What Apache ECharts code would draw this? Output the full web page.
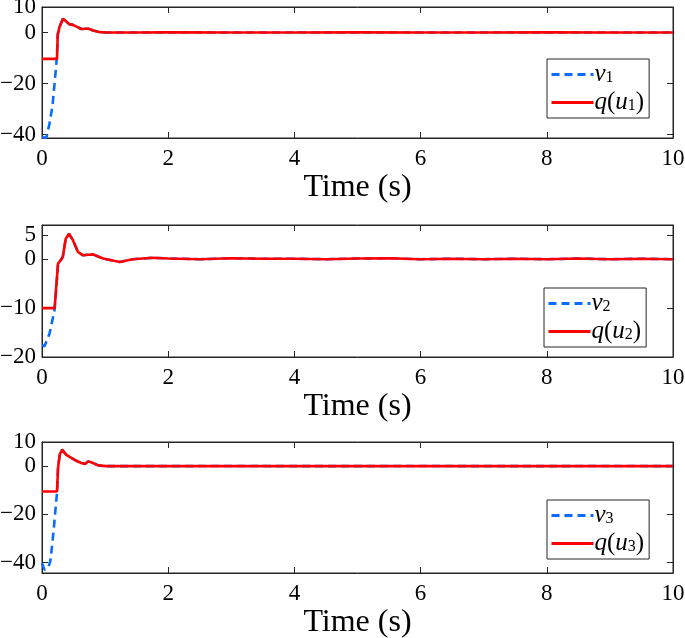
<!DOCTYPE html>
<html>
<head>
<meta charset="utf-8">
<script src="https://cdn.jsdelivr.net/npm/echarts@6/dist/echarts.min.js"></script>
<style>
html,body{margin:0;padding:0;background:#fff;}
#chart{width:685px;height:638px;}
</style>
</head>
<body>
<div id="chart"></div>
<script>
// ---- data ----
const xTicks = [0, 2, 4, 6, 8, 10];
const yTicks1 = [-40, -20, 0, 10];
const yTicks2 = [-20, -10, 0, 5];
const yTicks3 = [-40, -20, 0, 10];

const v1T = [0, 0.07, 0.12, 0.165, 0.2, 0.228, 0.24, 0.249, 0.28, 0.333, 0.36, 0.386, 0.43, 0.49, 0.546, 0.625, 0.68, 0.73, 0.81, 0.92, 1.02, 1.5, 2, 3, 4, 5, 6, 7, 8, 9, 10];
const v1V = [-41, -41.2, -35.5, -29, -19.7, -12, -7, -0.9, 2.4, 5.4, 5.4, 4.3, 3.3, 3.0, 2.3, 1.4, 1.5, 1.6, 0.8, 0.15, 0, 0, 0.05, 0, 0, 0.05, 0, 0, 0.05, 0, 0];
const q1T = [0, 0.238, 0.249, 0.28, 0.333, 0.36, 0.386, 0.43, 0.49, 0.546, 0.625, 0.68, 0.73, 0.81, 0.92, 1.02, 1.5, 2, 3, 4, 5, 6, 7, 8, 9, 10];
const q1V = [-10.3, -10.3, -0.9, 2.4, 5.4, 5.4, 4.3, 3.3, 3.0, 2.3, 1.4, 1.5, 1.6, 0.8, 0.15, 0, 0, 0.05, 0, 0, 0.05, 0, 0, 0.05, 0, 0];

const v2T = [0, 0.04, 0.12, 0.175, 0.2, 0.254, 0.307, 0.33, 0.376, 0.429, 0.45, 0.49, 0.57, 0.65, 0.73, 0.81, 0.9, 0.97, 1.1, 1.23, 1.44, 1.76, 2, 2.5, 3, 3.5, 4, 4.5, 5, 5.5, 6, 6.5, 7, 7.5, 8, 8.5, 9, 9.5, 10];
const v2V = [-17.6, -17.8, -15.2, -11.8, -10.3, -0.9, 0, 0.5, 4.2, 5.2, 5.4, 3.9, 1.5, 0.8, 0.9, 1.0, 0.5, 0.15, -0.2, -0.55, 0, 0.3, 0.15, 0, 0.2, 0.1, 0.1, 0, 0.15, 0.2, 0, 0.1, 0, 0.1, 0, 0.15, 0, 0.1, 0];
const q2T = [0, 0.2, 0.254, 0.307, 0.33, 0.376, 0.429, 0.45, 0.49, 0.57, 0.65, 0.73, 0.81, 0.9, 0.97, 1.1, 1.23, 1.44, 1.76, 2, 2.5, 3, 3.5, 4, 4.5, 5, 5.5, 6, 6.5, 7, 7.5, 8, 8.5, 9, 9.5, 10];
const q2V = [-10, -10, -0.9, 0, 0.5, 4.2, 5.2, 5.4, 3.9, 1.5, 0.8, 0.9, 1.0, 0.5, 0.15, -0.2, -0.55, 0, 0.3, 0.15, 0, 0.2, 0.1, 0.1, 0, 0.15, 0.2, 0, 0.1, 0, 0.1, 0, 0.15, 0, 0.1, 0];

const v3T = [0, 0.04, 0.07, 0.1, 0.13, 0.16, 0.19, 0.217, 0.238, 0.254, 0.28, 0.317, 0.386, 0.465, 0.544, 0.624, 0.68, 0.73, 0.78, 0.89, 1.02, 1.5, 2, 3, 4, 5, 6, 7, 8, 9, 10];
const v3V = [-40.2, -43, -43.6, -42, -39.5, -33, -25, -17, -11, -0.8, 4.7, 6.8, 4.7, 3.4, 2.2, 1.3, 0.9, 1.9, 1.6, 0.3, 0, 0, 0, 0.05, 0, 0, 0.05, 0, 0, 0.05, 0];
const q3T = [0, 0.238, 0.254, 0.28, 0.317, 0.386, 0.465, 0.544, 0.624, 0.68, 0.73, 0.78, 0.89, 1.02, 1.5, 2, 3, 4, 5, 6, 7, 8, 9, 10];
const q3V = [-10.5, -10.5, -0.8, 4.7, 6.8, 4.7, 3.4, 2.2, 1.3, 0.9, 1.9, 1.6, 0.3, 0, 0, 0, 0.05, 0, 0, 0.05, 0, 0, 0.05, 0];

const panels = [
  {vT: v1T, vV: v1V, qT: q1T, qV: q1V, yTicks: yTicks1, yMin: -41.3, yMax: 10, idx: '1'},
  {vT: v2T, vV: v2V, qT: q2T, qV: q2V, yTicks: yTicks2, yMin: -20, yMax: 7, idx: '2'},
  {vT: v3T, vV: v3V, qT: q3T, qV: q3V, yTicks: yTicks3, yMin: -44.3, yMax: 10, idx: '3'}
];

// ---- layout / style ----
const gridTops = [7, 225, 442];
const gridHeights = [131, 132, 131];
const legendTops = [59, 288, 500];
const legendLefts = [547, 544, 547];
const axisColor = '#262626';
const serif = 'Liberation Serif';
const BLUE = '#0a6cff';
const RED = '#ff0000';

function zip(t, v) { return t.map((x, i) => [x, v[i]]); }
function fmt(v) { return String(v).replace('-', '\u2212'); }

const grid = [], xAxis = [], yAxis = [], series = [], legend = [];
panels.forEach((p, k) => {
  grid.push({left: 42, right: 12, top: gridTops[k], height: gridHeights[k],
    outerBoundsMode: 'none', containLabel: false,
    show: true, borderColor: axisColor, borderWidth: 1, backgroundColor: 'transparent'});
  const common = {axisLine: {show: true, onZero: false, lineStyle: {color: axisColor, width: 1}},
    splitLine: {show: false}};
  xAxis.push(Object.assign({type: 'value', gridIndex: k, min: 0, max: 10, interval: 2, position: 'bottom',
    axisTick: {show: true, inside: true, length: 6, lineStyle: {color: axisColor}},
    axisLabel: {show: true, fontFamily: serif, fontSize: 23, color: '#000', margin: 9,
      customValues: xTicks, formatter: fmt},
    name: 'Time (s)', nameLocation: 'middle', nameGap: 34,
    nameTextStyle: {fontFamily: serif, fontSize: 32, color: '#000', verticalAlign: 'top'}}, common));
  xAxis.push(Object.assign({type: 'value', gridIndex: k, min: 0, max: 10, interval: 2, position: 'top',
    axisTick: {show: true, inside: true, length: 6, lineStyle: {color: axisColor}},
    axisLabel: {show: false}}, common));
  yAxis.push(Object.assign({type: 'value', gridIndex: k, min: p.yMin, max: p.yMax, position: 'left',
    axisTick: {show: true, inside: true, length: 6, customValues: p.yTicks, lineStyle: {color: axisColor}},
    axisLabel: {show: true, fontFamily: serif, fontSize: 23, color: '#000', margin: 6,
      customValues: p.yTicks, formatter: fmt}}, common));
  yAxis.push(Object.assign({type: 'value', gridIndex: k, min: p.yMin, max: p.yMax, position: 'right',
    axisTick: {show: true, inside: true, length: 6, customValues: p.yTicks, lineStyle: {color: axisColor}},
    axisLabel: {show: false}}, common));

  const vName = 'v' + p.idx, qName = 'q(u' + p.idx + ')';
  series.push({type: 'line', name: vName, xAxisIndex: 2 * k, yAxisIndex: 2 * k,
    data: zip(p.vT, p.vV), symbol: 'none', showSymbol: false,
    lineStyle: {color: BLUE, width: 2.6, type: [8, 5]}, itemStyle: {color: BLUE}, z: 2});
  series.push({type: 'line', name: qName, xAxisIndex: 2 * k, yAxisIndex: 2 * k,
    data: zip(p.qT, p.qV), symbol: 'none', showSymbol: false,
    lineStyle: {color: RED, width: 2.6}, itemStyle: {color: RED}, z: 3});

  legend.push({
    data: [vName, qName], orient: 'vertical', left: legendLefts[k], top: legendTops[k],
    itemWidth: 42, itemHeight: 14, itemGap: 3, padding: [3, 5, 3, 3],
    borderColor: axisColor, borderWidth: 1, backgroundColor: '#fff',
    selectedMode: false,
    itemStyle: {opacity: 0},
    lineStyle: {width: 3, opacity: 1},
    formatter: function (name) {
      if (name.charAt(0) === 'v') return '{i|v}{s|' + name.slice(1) + '}';
      const d = name.charAt(3);
      return '{i|q}{n|(}{i|u}{s|' + d + '}{n|)}';
    },
    textStyle: {
      padding: [0, 0, 0, -4],
      rich: {
        i: {fontFamily: serif, fontStyle: 'italic', fontSize: 25, color: '#000', lineHeight: 22},
        n: {fontFamily: serif, fontSize: 25, color: '#000', lineHeight: 22},
        s: {fontFamily: serif, fontSize: 16, color: '#000', lineHeight: 16, verticalAlign: 'bottom'}
      }
    }
  });
});

const chart = echarts.init(document.getElementById('chart'), null, {renderer: 'canvas'});
chart.setOption({
  animation: false,
  backgroundColor: '#fff',
  grid, xAxis, yAxis, series, legend
});
</script>
</body>
</html>
